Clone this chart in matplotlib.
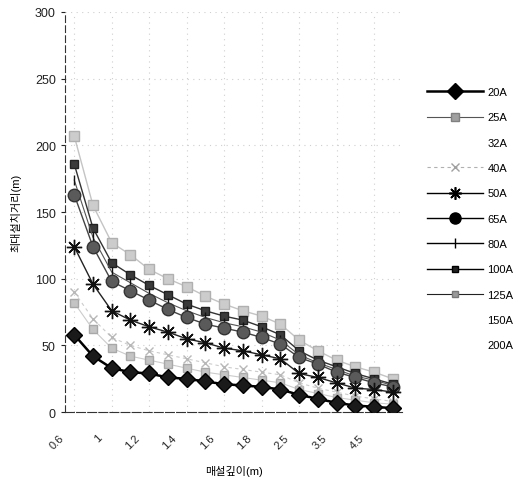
import matplotlib
matplotlib.use("Agg")
import matplotlib.pyplot as plt
from matplotlib.lines import Line2D
from matplotlib.transforms import ScaledTranslation

plt.rcParams['font.family'] = ['Liberation Sans', 'Noto Sans CJK KR', 'DejaVu Sans']

depths = ["0.6", "0.8", "1", "1.1", "1.2", "1.3", "1.4", "1.5", "1.6", "1.7",
          "1.8", "2", "2.5", "3", "3.5", "4", "4.5", "5"]
tick_labels = ["0.6", "1", "1.2", "1.4", "1.6", "1.8", "2.5", "3.5", "4.5"]

s20 = [58, 42, 33, 30, 29, 26, 25, 23, 21, 20, 19, 17, 13, 10, 7, 5, 4, 3]
s25 = [82, 62, 48, 42, 39, 36, 33, 30, 28, 26, 24, 22, 17, 14, 11, 9, 7, 6]
s40 = [90, 70, 56, 50, 46, 43, 40, 37, 34, 32, 30, 28, 22, 18, 15, 12, 10, 8]
s50 = [124, 96, 76, 69, 64, 60, 55, 52, 48, 46, 43, 40, 29, 26, 22, 18, 17, 15]
s65 = [163, 124, 98, 91, 84, 77, 71, 66, 63, 60, 56, 51, 41, 36, 30, 26, 22, 19]
s80 = [174, 131, 105, 97, 89, 82, 76, 71, 67, 64, 60, 54, 43, 37, 32, 27, 24, 20]
s100 = [186, 138, 112, 103, 95, 88, 81, 76, 72, 69, 64, 58, 46, 39, 34, 29, 25, 21]
s125 = [207, 155, 127, 118, 107, 100, 94, 87, 81, 76, 72, 66, 54, 46, 39, 34, 30, 25]

fig = plt.figure(figsize=(5.19, 4.81), dpi=100)
ax = fig.add_axes([0.125, 0.141, 0.65, 0.832])

x = list(range(len(depths)))

ax.plot(x, s125, color='#c4c4c4', lw=1.0, marker='s', ms=7, mfc='#cccccc', mec='#b0b0b0', label='125A', zorder=2)
ax.plot(x, s25, color='#cccccc', lw=0.8, marker='s', ms=6, mfc='#c4c4c4', mec='#a8a8a8', label='25A', zorder=2)
ax.plot(x, s40, color='#cccccc', lw=0.8, ls=(0, (3, 3)), marker='x', ms=6, mec='#b8b8b8', label='40A', zorder=2)
ax.plot(x, s100, color='#333333', lw=1.0, marker='s', ms=6, mfc='#3a3a3a', mec='#222222', label='100A', zorder=3)
ax.plot(x, s80, color='#555555', lw=0.8, marker='|', ms=7, mec='#111111', label='80A', zorder=3)
ax.plot(x, s65, color='#444444', lw=1.0, marker='o', ms=9, mfc='#5a5a5a', mec='#333333', label='65A', zorder=3)
ax.plot(x, s50, color='#222222', lw=1.0, marker=(8, 2, 0), ms=11, mec='#111111', mew=1.0, label='50A', zorder=4)
ax.plot(x, s20, color='#000000', lw=1.8, marker='D', ms=8, mfc='#1a1a1a', mec='#000000', label='20A', zorder=5)

ax.set_xlim(-0.5, len(depths) - 0.5)
ax.set_ylim(0, 300)
ax.set_yticks(range(0, 301, 50))
ax.set_xticks(x[::2])
ax.tick_params(axis='y', labelsize=9, length=3, colors='#222222')
ax.tick_params(axis='x', length=0, pad=8)
ax.set_xticklabels(tick_labels, rotation=45, ha='right', fontsize=8, color='#222222')
offset = ScaledTranslation(-8 / 100, -9 / 100, fig.dpi_scale_trans)
for tick in ax.xaxis.get_major_ticks():
    tick.label1.set_transform(tick.label1.get_transform() + offset)

ax.grid(True, color='#cfcfcf', ls=(0, (1, 4)), lw=0.8)
ax.set_axisbelow(True)
for side in ['top', 'right']:
    ax.spines[side].set_visible(False)
ax.spines['left'].set_linestyle((0, (6, 3)))
ax.spines['left'].set_color('#333333')
ax.spines['bottom'].set_linestyle((0, (8, 2)))
ax.spines['bottom'].set_color('#333333')

ax.set_xlabel('매설깊이(m)', fontsize=8)
ax.xaxis.set_label_coords(0.5, -0.132)
ax.set_ylabel('최대설치거리(m)', fontsize=8, labelpad=10)

handles = [
    Line2D([], [], color='#000000', lw=1.8, marker='D', ms=8),
    Line2D([], [], color='#555555', lw=0.8, marker='s', ms=6, mfc='#a0a0a0', mec='#808080'),
    Line2D([], [], color='none', lw=0),
    Line2D([], [], color='#b0b0b0', lw=0.8, ls=(0, (3, 3)), marker='x', ms=6, mec='#a0a0a0'),
    Line2D([], [], color='#000000', lw=1.0, marker=(8, 2, 0), ms=9, mec='#000000', mew=1.2),
    Line2D([], [], color='#000000', lw=1.0, marker='o', ms=8, mfc='#000000'),
    Line2D([], [], color='#000000', lw=1.0, marker='|', ms=7, mec='#000000'),
    Line2D([], [], color='#000000', lw=1.0, marker='s', ms=5, mfc='#222222'),
    Line2D([], [], color='#222222', lw=0.8, marker='s', ms=4, mfc='#999999', mec='#777777'),
    Line2D([], [], color='none', lw=0),
    Line2D([], [], color='none', lw=0),
]
labels = ['20A', '25A', '32A', '40A', '50A', '65A', '80A', '100A', '125A', '150A', '200A']
fig.legend(handles, labels, loc='upper left', bbox_to_anchor=(0.815, 0.826),
           frameon=False, fontsize=8, handlelength=5.0, labelspacing=1.38,
           handletextpad=0.4, borderaxespad=0)

fig.savefig('out.png', dpi=100)
